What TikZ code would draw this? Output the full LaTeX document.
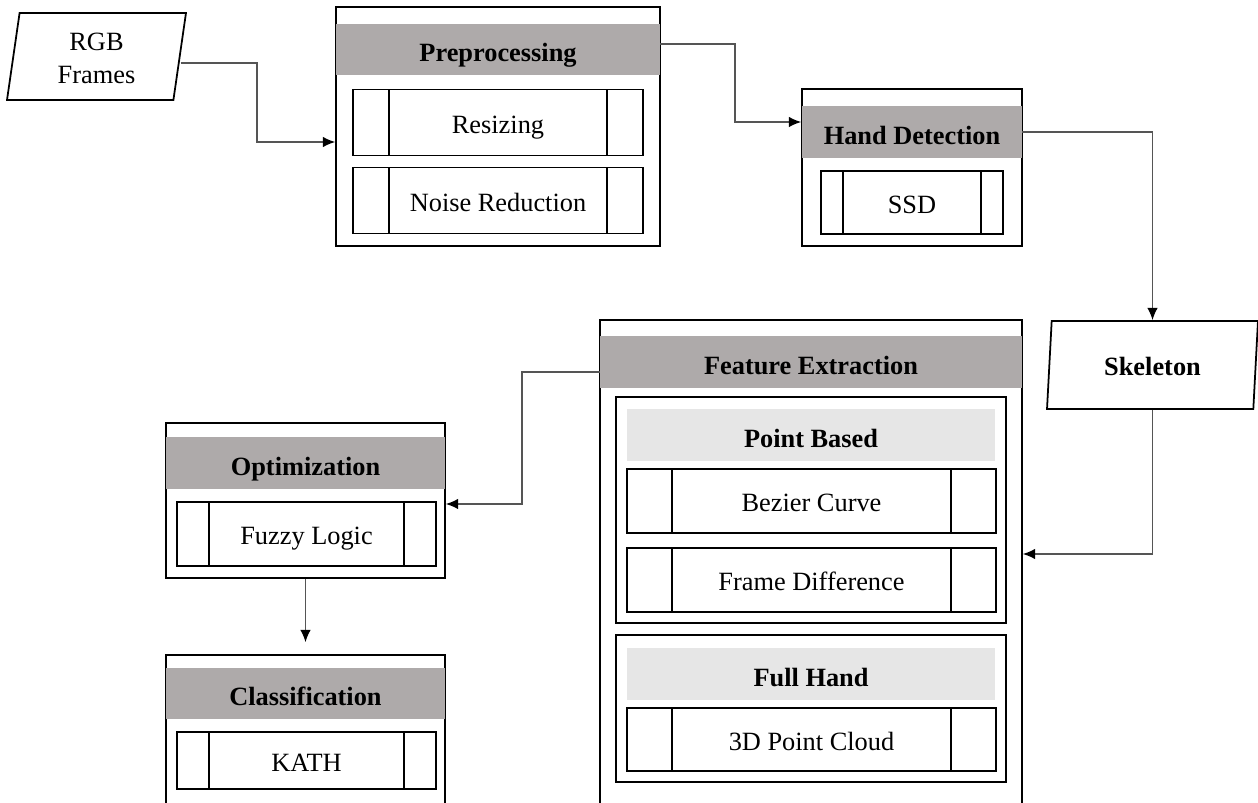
\documentclass[tikz,border=0pt]{standalone}
\usepackage{fontspec}
\setmainfont{Liberation Serif}
\usetikzlibrary{shapes.geometric,arrows.meta}
\definecolor{headgray}{HTML}{AEAAAA}
\definecolor{subgray}{HTML}{E6E6E6}
\definecolor{linegray}{HTML}{555555}
\newcommand{\figfont}{\fontsize{15}{19}\selectfont}
\tikzset{
  outer/.style={draw, line width=1pt, inner sep=0pt},
  head/.style={fill=headgray, inner sep=0pt, font=\figfont\bfseries, text height=14pt, text depth=0pt},
  subhead/.style={fill=subgray, inner sep=0pt, font=\figfont\bfseries, text height=14pt, text depth=0pt},
  proc/.style={draw, line width=1pt, inner sep=0pt, text height=12.5pt, text depth=0pt, path picture={
      \draw[line width=1pt] ([xshift=#1]path picture bounding box.north west) -- ([xshift=#1]path picture bounding box.south west);
      \draw[line width=1pt] ([xshift=-#1]path picture bounding box.north east) -- ([xshift=-#1]path picture bounding box.south east);}},
  io/.style={draw, line width=1pt, trapezium, trapezium left angle=77, trapezium right angle=103,
      trapezium stretches body, inner sep=0pt, align=center},
  conn/.style={draw=linegray, line width=0.75pt, -{Latex[length=7pt,width=6pt,color=black]}}
}
\begin{document}
\begin{tikzpicture}[x=0.02cm, y=-0.02cm, font=\figfont]
    \useasboundingbox (0,0) rectangle (1258,803);
    \clip (0,0) rectangle (1258,803);
    % inputs
    \node[io, minimum width=3.58cm, minimum height=1.74cm, text height=31pt, text depth=0pt] (rgb) at (96.5,56.5) {RGB\\Frames};
    \node[io, minimum width=4.22cm, minimum height=1.76cm, font=\figfont\bfseries, text height=11.5pt, text depth=0pt] (sk) at (1152.5,365) {Skeleton};
    % preprocessing
    \node[outer, minimum width=6.48cm, minimum height=4.78cm] (pre) at (498,126.5) {};
    \node[head, minimum width=6.48cm, minimum height=1.02cm] (prehd) at (498,49.5) {Preprocessing};
    \node[proc=0.72cm, minimum width=5.8cm, minimum height=1.32cm] (rs) at (498,122.5) {Resizing};
    \node[proc=0.72cm, minimum width=5.8cm, minimum height=1.32cm] (nr) at (498,200.5) {Noise Reduction};
    % hand detection
    \node[outer, minimum width=4.4cm, minimum height=3.14cm] (hd) at (912,167.5) {};
    \node[head, minimum width=4.4cm, minimum height=1.04cm] (hdhd) at (912,132) {Hand Detection};
    \node[proc=0.44cm, minimum width=3.64cm, minimum height=1.26cm] (ssd) at (912,202.5) {SSD};
    % feature extraction
    \node[outer, minimum width=8.44cm, minimum height=10cm] (fe) at (811,570) {};
    \node[head, minimum width=8.44cm, minimum height=1.04cm] (fehd) at (811,362) {Feature Extraction};
    \node[outer, minimum width=7.8cm, minimum height=4.52cm] (pb) at (811,510) {};
    \node[subhead, minimum width=7.36cm, minimum height=1.04cm] (pbhd) at (811,435) {Point Based};
    \node[proc=0.9cm, minimum width=7.38cm, minimum height=1.28cm] (bz) at (811.5,501) {Bezier Curve};
    \node[proc=0.9cm, minimum width=7.38cm, minimum height=1.28cm] (fd) at (811.5,580) {Frame Difference};
    \node[outer, minimum width=7.8cm, minimum height=2.94cm] (fh) at (811,708.5) {};
    \node[subhead, minimum width=7.36cm, minimum height=1.04cm] (fhhd) at (811,674) {Full Hand};
    \node[proc=0.9cm, minimum width=7.38cm, minimum height=1.26cm] (pc) at (811.5,739.5) {3D Point Cloud};
    % optimization
    \node[outer, minimum width=5.58cm, minimum height=3.1cm] (op) at (305.5,500.5) {};
    \node[head, minimum width=5.58cm, minimum height=1.04cm] (ophd) at (305.5,463) {Optimization};
    \node[proc=0.64cm, minimum width=5.18cm, minimum height=1.28cm] (fz) at (306.5,534) {Fuzzy Logic};
    % classification
    \node[outer, minimum width=5.58cm, minimum height=3.5cm] (cl) at (305.5,742.5) {};
    \node[head, minimum width=5.58cm, minimum height=1.02cm] (clhd) at (305.5,693.5) {Classification};
    \node[proc=0.64cm, minimum width=5.18cm, minimum height=1.14cm] (kt) at (306.5,760.5) {KATH};
    % connectors
    \coordinate (k1) at (257,142);
    \coordinate (k2) at (735,122);
    \coordinate (k3) at (1154,554);
    \coordinate (k4) at (522,504);
    \draw[conn] ([yshift=-0.13cm]rgb.east) -| (k1) -- (k1 -| pre.west);
    \draw[conn] ([yshift=0.11cm]prehd.east) -| (k2) -- (k2 -| hd.west);
    \draw[conn] (hdhd.east) -| (sk.north);
    \draw[conn] (sk.south) |- (k3 -| fe.east);
    \draw[conn] ([yshift=-0.2cm]fehd.west) -| (k4) -- (k4 -| op.east);
    \draw[conn, shorten >=0.24cm] (op.south) -- (cl.north);
\end{tikzpicture}
\end{document}
